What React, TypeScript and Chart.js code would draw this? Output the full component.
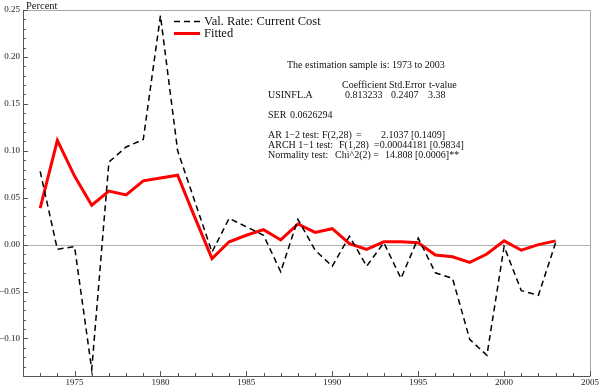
import React, { useEffect, useRef } from "react";
import { Chart, registerables } from "chart.js";

Chart.register(...registerables);

const years = [
  1973, 1974, 1975, 1976, 1977, 1978, 1979, 1980, 1981, 1982, 1983, 1984, 1985, 1986, 1987, 1988,
  1989, 1990, 1991, 1992, 1993, 1994, 1995, 1996, 1997, 1998, 1999, 2000, 2001, 2002, 2003,
];
const actualRate = [
  0.078, -0.005, -0.002, -0.133, 0.088, 0.104, 0.112, 0.244, 0.1, 0.046, -0.008, 0.028, 0.019, 0.01,
  -0.029, 0.027, -0.006, -0.023, 0.009, -0.023, 0.002, -0.036, 0.007, -0.03, -0.036, -0.101, -0.118,
  -0.002, -0.049, -0.054, 0.002,
];
const fittedRate = [
  0.039, 0.111, 0.073, 0.042, 0.057, 0.053, 0.068, 0.071, 0.074, 0.029, -0.015, 0.003, 0.01, 0.016,
  0.005, 0.022, 0.013, 0.017, 0.001, -0.005, 0.003, 0.003, 0.002, -0.011, -0.013, -0.019, -0.01,
  0.004, -0.006, 0.0, 0.004,
];
const seriesLabels = ["Val. Rate: Current Cost", "Fitted"];
const yTickValues = [-0.1, -0.05, 0, 0.05, 0.1, 0.15, 0.2, 0.25];
const yTickLabels = ["\u22120.10", "\u22120.05", "0.00", "0.05", "0.10", "0.15", "0.20", "0.25"];
const xTickValues = [1975, 1980, 1985, 1990, 1995, 2000, 2005];
const yAxisTitle = "Percent";

// Text block: [text, x, y]
const statsText: [string, number, number][] = [
  ["The estimation sample is: 1973 to 2003", 287, 65],
  ["Coefficient", 342, 85],
  ["Std.Error", 389, 85],
  ["t-value", 429, 85],
  ["USINFL.A", 268, 95],
  ["0.813233", 345, 95],
  ["0.2407", 391, 95],
  ["3.38", 428, 95],
  ["SER", 268, 115],
  ["0.0626294", 290, 115],
  ["AR 1\u22122 test:", 268, 135],
  ["F(2,28)", 322, 135],
  ["=", 356, 135],
  ["2.1037 [0.1409]", 381, 135],
  ["ARCH 1\u22121 test:", 268, 145],
  ["F(1,28)", 339, 145],
  ["=0.00044181 [0.9834]", 374, 145],
  ["Normality test:", 268, 155],
  ["Chi^2(2) =", 335, 155],
  ["14.808 [0.0006]**", 385, 155],
];

const SERIF = "'Liberation Serif', 'Times New Roman', serif";

const decorPlugin = {
  id: "decor",
  beforeDatasetsDraw(chart: any) {
    const { ctx, chartArea } = chart;
    const ys = chart.scales.y;
    const y0 = Math.round(ys.getPixelForValue(0)) + 0.5;
    ctx.save();
    ctx.strokeStyle = "#b0b0b0";
    ctx.lineWidth = 1;
    ctx.beginPath();
    ctx.moveTo(chartArea.left, y0);
    ctx.lineTo(chartArea.right, y0);
    ctx.stroke();
    ctx.restore();
  },
  afterDraw(chart: any) {
    const { ctx, chartArea } = chart;
    const { left, right, top, bottom } = chartArea;
    const xs = chart.scales.x;
    const ys = chart.scales.y;
    ctx.save();
    // frame
    ctx.lineWidth = 1;
    ctx.strokeStyle = "#a8a8a8";
    ctx.beginPath();
    ctx.moveTo(left, top + 0.5);
    ctx.lineTo(right + 0.5, top + 0.5);
    ctx.lineTo(right + 0.5, bottom);
    ctx.stroke();
    ctx.strokeStyle = "#555";
    ctx.beginPath();
    ctx.moveTo(left + 0.5, top);
    ctx.lineTo(left + 0.5, bottom + 0.5);
    ctx.lineTo(right + 0.5, bottom + 0.5);
    ctx.stroke();
    // y ticks
    ctx.strokeStyle = "#555";
    ctx.beginPath();
    for (let k = -14; k <= 25; k++) {
      const py = Math.round(ys.getPixelForValue(k / 100)) + 0.5;
      const len = k % 5 === 0 ? 5 : 3;
      ctx.moveTo(left, py);
      ctx.lineTo(left + len, py);
    }
    // x ticks
    for (let yr = 1972; yr <= 2005; yr++) {
      const px = Math.round(xs.getPixelForValue(yr)) + 0.5;
      const len = yr % 5 === 0 ? 5 : 3;
      ctx.moveTo(px, bottom);
      ctx.lineTo(px, bottom - len);
    }
    ctx.stroke();

    // axis title
    ctx.fillStyle = "#111";
    ctx.font = `10.5px ${SERIF}`;
    ctx.textBaseline = "middle";
    ctx.textAlign = "left";
    ctx.fillText(yAxisTitle, left + 3, top - 4);

    // legend
    const ds = chart.data.datasets;
    const lx0 = 174;
    const lx1 = 200;
    const lys = [21.5, 33.5];
    ds.forEach((d: any, i: number) => {
      ctx.save();
      ctx.strokeStyle = d.borderColor;
      ctx.lineWidth = d.borderWidth;
      ctx.setLineDash(d.borderDash || []);
      ctx.beginPath();
      ctx.moveTo(lx0, lys[i]);
      ctx.lineTo(lx1, lys[i]);
      ctx.stroke();
      ctx.restore();
      ctx.fillStyle = "#111";
      ctx.font = `12.5px ${SERIF}`;
      ctx.textBaseline = "middle";
      ctx.fillText(d.label, 204, lys[i] + 0.5);
    });

    // statistics text
    ctx.font = `10px ${SERIF}`;
    ctx.fillStyle = "#111";
    ctx.textBaseline = "middle";
    statsText.forEach(([t, x, y]) => ctx.fillText(t, x, y));
    ctx.restore();
  },
};

export default function App() {
  const ref = useRef<HTMLCanvasElement | null>(null);
  useEffect(() => {
    if (!ref.current) return;
    const chart = new Chart(ref.current, {
      type: "line",
      data: {
        datasets: [
          {
            label: seriesLabels[0],
            data: years.map((yr, i) => ({ x: yr, y: actualRate[i] })),
            borderColor: "#000",
            borderWidth: 1.5,
            borderDash: [6, 4],
            pointRadius: 0,
            tension: 0,
            fill: false,
          },
          {
            label: seriesLabels[1],
            data: years.map((yr, i) => ({ x: yr, y: fittedRate[i] })),
            borderColor: "#ff0000",
            borderWidth: 3,
            pointRadius: 0,
            tension: 0,
            fill: false,
          },
        ],
      },
      options: {
        responsive: false,
        animation: false,
        layout: { padding: { top: 10, right: 9, left: 0, bottom: 0 } },
        plugins: { legend: { display: false }, tooltip: { enabled: false } },
        scales: {
          x: {
            type: "linear",
            min: 1972,
            max: 2005,
            grid: { display: false, drawTicks: false },
            border: { display: false },
            afterBuildTicks: (s: any) => {
              s.ticks = xTickValues.map((v) => ({ value: v }));
            },
            afterFit: (s: any) => {
              s.height = 10;
            },
            ticks: {
              autoSkip: false,
              maxRotation: 0,
              padding: 1,
              color: "#222",
              font: { family: SERIF, size: 9 },
              callback: (v: any) => String(v),
            },
          },
          y: {
            type: "linear",
            min: -0.14,
            max: 0.25,
            grid: { display: false, drawTicks: false },
            border: { display: false },
            afterBuildTicks: (s: any) => {
              s.ticks = yTickValues.map((v) => ({ value: v }));
            },
            afterFit: (s: any) => {
              s.width = 23;
            },
            ticks: {
              autoSkip: false,
              padding: 3,
              color: "#222",
              font: { family: SERIF, size: 9 },
              callback: (v: any) => {
                const idx = yTickValues.findIndex((t) => Math.abs(t - v) < 1e-9);
                return idx >= 0 ? yTickLabels[idx] : "";
              },
            },
          },
        },
      },
      plugins: [decorPlugin],
    });
    return () => chart.destroy();
  }, []);
  return (
    <div style={{ position: "fixed", left: 0, top: 0, width: 600, height: 386, background: "#fff" }}>
      <canvas ref={ref} width={600} height={386} style={{ width: 600, height: 386, display: "block" }} />
    </div>
  );
}
